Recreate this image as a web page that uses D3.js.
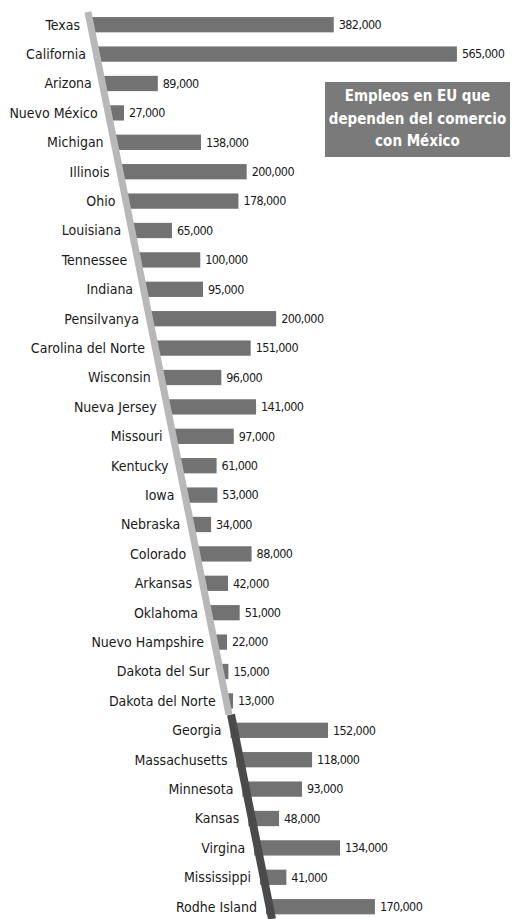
<!DOCTYPE html>
<html>
<head>
<meta charset="utf-8">
<script src="https://cdn.jsdelivr.net/npm/d3@7"></script>
<style>
  body { margin: 0; background: #fff; }
  svg { display: block; font-family: "DejaVu Sans", sans-serif; font-stretch: condensed; }
</style>
</head>
<body>
<svg width="515" height="919"></svg>
<script>
const states = ["Texas", "California", "Arizona", "Nuevo México", "Michigan", "Illinois", "Ohio",
  "Louisiana", "Tennessee", "Indiana", "Pensilvanya", "Carolina del Norte", "Wisconsin",
  "Nueva Jersey", "Missouri", "Kentucky", "Iowa", "Nebraska", "Colorado", "Arkansas", "Oklahoma",
  "Nuevo Hampshire", "Dakota del Sur", "Dakota del Norte", "Georgia", "Massachusetts",
  "Minnesota", "Kansas", "Virgina", "Mississippi", "Rodhe Island"];
const jobs = [382000, 565000, 89000, 27000, 138000, 200000, 178000,
  65000, 100000, 95000, 200000, 151000, 96000,
  141000, 97000, 61000, 53000, 34000, 88000, 42000, 51000,
  22000, 15000, 13000, 152000, 118000,
  93000, 48000, 134000, 41000, 170000];
const titleLines = ["Empleos en EU que", "dependen del comercio", "con México"];
const darkFrom = "Georgia"; // la línea base se vuelve oscura desde aquí

const svg = d3.select("svg");
const data = states.map((s, i) => ({ state: s, value: jobs[i] }));

// filas
const y = d3.scaleBand().domain(states).range([10, 10 + states.length * 29.4])
  .paddingInner(0.48).paddingOuter(0.24);
// la línea base inclinada: x según la posición vertical
const base = d3.scaleLinear().domain([y(states[0]), y(states[states.length - 1])]).range([89, 266]);
const len = d3.scaleLinear().domain([0, 565000]).range([0, 362]);
const fmt = d3.format(",");

const cx = d => base(y(d.state));
const cy = d => y(d.state) + y.bandwidth() / 2;

// barras
svg.append("g").selectAll("rect")
  .data(data)
  .join("rect")
  .attr("x", d => cx(d))
  .attr("y", d => y(d.state))
  .attr("width", d => len(d.value))
  .attr("height", y.bandwidth())
  .attr("fill", "#727272");

// línea base
const yTop = 12, yBot = 919;
const yMid = y(darkFrom) - 8;
svg.append("line")
  .attr("x1", base(yTop)).attr("y1", yTop)
  .attr("x2", base(yMid)).attr("y2", yMid)
  .attr("stroke", "#b8b8b8").attr("stroke-width", 7);
svg.append("line")
  .attr("x1", base(yMid) + 2).attr("y1", yMid)
  .attr("x2", base(yBot) + 2).attr("y2", yBot)
  .attr("stroke", "#4a4a4a").attr("stroke-width", 8);

// nombres de estados
svg.append("g").selectAll("text")
  .data(data)
  .join("text")
  .attr("x", d => cx(d) - 9)
  .attr("y", d => cy(d))
  .attr("dy", "0.35em")
  .attr("text-anchor", "end")
  .attr("font-size", 14)
  .attr("fill", "#1a1a1a")
  .text(d => d.state);

// valores
svg.append("g").selectAll("text")
  .data(data)
  .join("text")
  .attr("x", d => cx(d) + len(d.value) + 5)
  .attr("y", d => cy(d))
  .attr("dy", "0.35em")
  .attr("font-size", 12.5)
  .attr("letter-spacing", -0.6)
  .attr("fill", "#1a1a1a")
  .text(d => fmt(d.value));

// recuadro del título
const box = svg.append("g").attr("transform", "translate(325,82)");
box.append("rect").attr("width", 185).attr("height", 75).attr("fill", "#7a7a7a");
box.selectAll("text")
  .data(titleLines)
  .join("text")
  .attr("x", 92.5)
  .attr("y", (_, i) => 14 + i * 22.5)
  .attr("dy", "0.35em")
  .attr("text-anchor", "middle")
  .attr("font-size", 15)
  .attr("font-weight", "bold")
  .attr("fill", "#fff")
  .text(d => d);
</script>
</body>
</html>
